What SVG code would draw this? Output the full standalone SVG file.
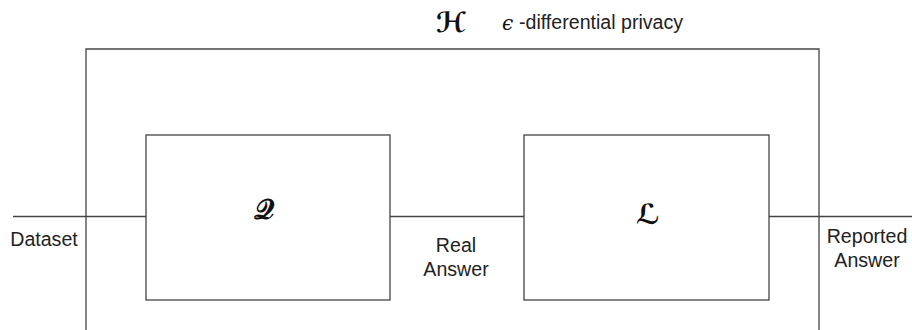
<svg xmlns="http://www.w3.org/2000/svg" width="912" height="330" viewBox="0 0 912 330">
<style>
.ln{fill:none;stroke:#444;stroke-width:1.3}
.t{font-family:"Liberation Sans",Arial,sans-serif;font-size:19.6px;fill:#222}
.m{font-family:"DejaVu Sans","Noto Sans",serif;font-weight:bold;fill:#111}
</style>
<rect width="912" height="330" fill="#fff"/>
<g id="outer">
<path class="ln" d="M86,330 V49 H819 V330"/>
<text class="m" x="451" y="32" font-size="28" text-anchor="middle">ℋ</text>
<text x="502" y="30" font-size="20" font-style="italic" font-family="DejaVu Serif,serif" fill="#111">ϵ</text>
<text class="t" x="519" y="29">-differential privacy</text>
</g>
<g id="Q">
<rect class="ln" x="146" y="135" width="244" height="165"/>
<text class="m" x="264" y="219" font-size="28" text-anchor="middle">𝒬</text>
</g>
<g id="L">
<rect class="ln" x="524" y="135" width="245" height="165"/>
<text class="m" x="648" y="224" font-size="28" text-anchor="middle">ℒ</text>
</g>
<g id="connectors">
<line class="ln" x1="13" y1="216.5" x2="146" y2="216.5"/>
<line class="ln" x1="390" y1="216.5" x2="524" y2="216.5"/>
<line class="ln" x1="769" y1="216.5" x2="912" y2="216.5"/>
</g>
<g id="labels">
<text class="t" x="44" y="246" text-anchor="middle">Dataset</text>
<text class="t" x="456" y="252" text-anchor="middle">Real</text>
<text class="t" x="456" y="276" text-anchor="middle">Answer</text>
<text class="t" x="867" y="243" text-anchor="middle">Reported</text>
<text class="t" x="867" y="267" text-anchor="middle">Answer</text>
</g>
</svg>
